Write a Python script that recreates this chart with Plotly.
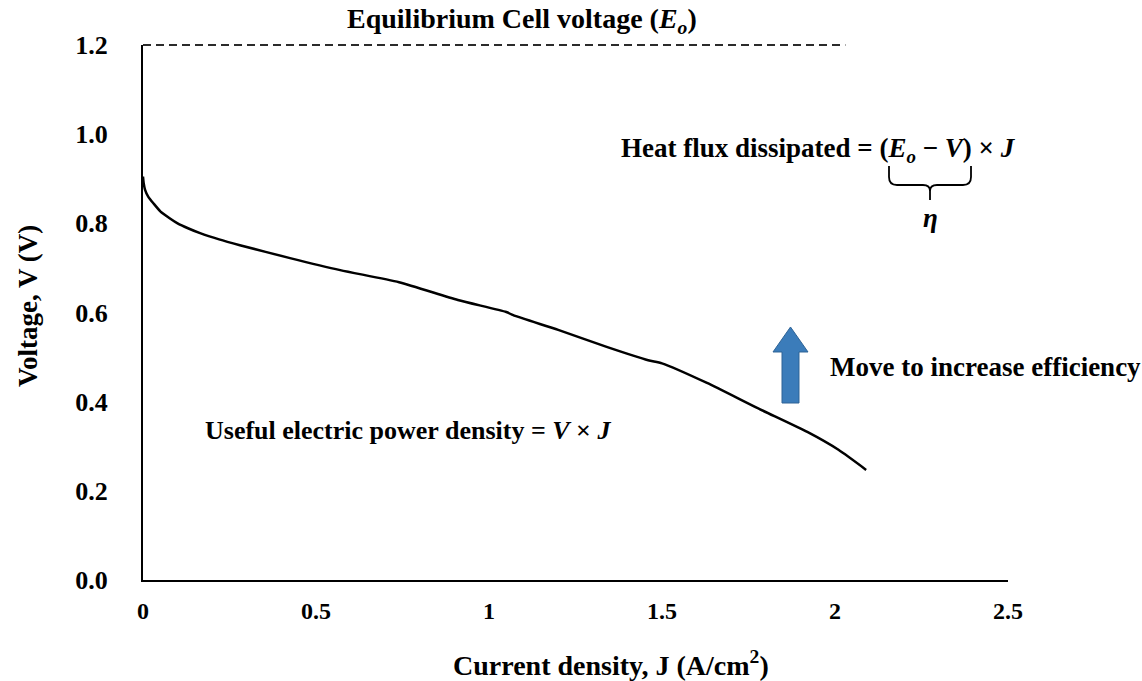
import plotly.graph_objects as go

# ---- data ----
current_density = [0, 0.002, 0.006, 0.015, 0.030, 0.050, 0.078, 0.10, 0.13, 0.165, 0.22, 0.28,
                   0.425, 0.57, 0.74, 0.91, 1.05, 1.07, 1.20, 1.34, 1.46, 1.50, 1.63, 1.775,
                   1.92, 2.01, 2.09]
voltage = [0.905, 0.890, 0.875, 0.860, 0.845, 0.827, 0.811, 0.800, 0.789, 0.778, 0.764, 0.751,
           0.722, 0.695, 0.668, 0.628, 0.601, 0.594, 0.561, 0.523, 0.493, 0.486, 0.442, 0.386,
           0.332, 0.292, 0.247]
E0 = 1.2
E0_line_end = 2.03
x_ticks = [0, 0.5, 1, 1.5, 2, 2.5]
x_tick_labels = ["0", "0.5", "1", "1.5", "2", "2.5"]
y_ticks = [0, 0.2, 0.4, 0.6, 0.8, 1.0, 1.2]
y_tick_labels = ["0.0", "0.2", "0.4", "0.6", "0.8", "1.0", "1.2"]
Y_MAX = 1.2

W, H = 1142, 681
L, R, T, B = 143, 134, 45, 101
PW, PH = W - L - R, H - T - B

def px(x):
    return (x - L) / PW

def py(y):
    return (H - B - y) / PH

FONT = "Liberation Serif"

fig = go.Figure()
fig.add_trace(go.Scatter(x=current_density, y=voltage, mode="lines",
                         line=dict(color="black", width=2.5, shape="spline", smoothing=0.6),
                         showlegend=False, hoverinfo="skip"))

# equilibrium voltage dashed line (yref paper so it's not clipped at the top edge)
fig.add_shape(type="line", x0=0, x1=E0_line_end, y0=E0 / Y_MAX, y1=E0 / Y_MAX,
              xref="x", yref="paper",
              line=dict(color="#2b2b2b", width=2, dash="8px,5px"))

def P(xp, yp):
    return f"{px(xp):.5f},{py(yp):.5f}"

# brace under (Eo - V)
brace = ("M " + P(889, 166) + " L " + P(889, 177) + " Q " + P(889, 185) + " " + P(897, 185) +
         " L " + P(923, 185) + " Q " + P(930, 185) + " " + P(930, 191) + " L " + P(930, 200) +
         " M " + P(930, 191) + " Q " + P(930, 185) + " " + P(937, 185) +
         " L " + P(963, 185) + " Q " + P(971, 185) + " " + P(971, 177) + " L " + P(971, 166))
fig.add_shape(type="path", path=brace, xref="paper", yref="paper",
              line=dict(color="black", width=1.8))

# blue block arrow
arrow = ("M " + P(790.5, 327) + " L " + P(808, 352) + " L " + P(799, 352) + " L " + P(799, 403) +
         " L " + P(782, 403) + " L " + P(782, 352) + " L " + P(773, 352) + " Z")
fig.add_shape(type="path", path=arrow, xref="paper", yref="paper",
              fillcolor="#3B7CBA", line=dict(color="#2E6396", width=1))

def ann(text, x, y, xa="center", ya="middle", size=27, angle=0):
    fig.add_annotation(text=text, x=px(x), y=py(y), xref="paper", yref="paper",
                       xanchor=xa, yanchor=ya, showarrow=False, textangle=angle,
                       font=dict(family=FONT, size=size, color="black"))

ann("<b>Equilibrium Cell voltage (<i>E</i><sub><i>o</i></sub>)</b>", 522, 20, size=28)
ann("<b>Heat flux dissipated = (<i>E</i><sub><i>o</i></sub> − <i>V</i>) × <i>J</i></b>", 1018, 150, xa="right")
ann("<b><i>η</i></b>", 930, 218)
ann("<b>Move to increase efficiency</b>", 828, 367, xa="left")
ann("<b>Useful electric power density = <i>V</i> × <i>J</i></b>", 203, 430, xa="left", size=26)
ann("<b>Current density, J (A/cm<sup>2</sup>)</b>", 611, 663, size=28)
ann("<b>Voltage, V (V)</b>", 28, 306, size=27, angle=-90)

fig.update_layout(
    width=W, height=H,
    margin=dict(l=L, r=R, t=T, b=B),
    paper_bgcolor="white", plot_bgcolor="white",
    showlegend=False,
    xaxis=dict(range=[0, 2.5], tickvals=x_ticks, ticktext=[f"<b>{t}</b>" for t in x_tick_labels],
               showgrid=False, zeroline=False, showline=True, linecolor="black", linewidth=2,
               ticks="", ticklabelstandoff=8, tickfont=dict(family=FONT, size=24, color="black")),
    yaxis=dict(range=[0, Y_MAX], tickvals=y_ticks, ticktext=[f"<b>{t}</b>" for t in y_tick_labels],
               showgrid=False, zeroline=False, showline=True, linecolor="black", linewidth=2,
               ticks="", ticklabelstandoff=28, tickfont=dict(family=FONT, size=26, color="black")),
)

fig.write_html("out.html")
